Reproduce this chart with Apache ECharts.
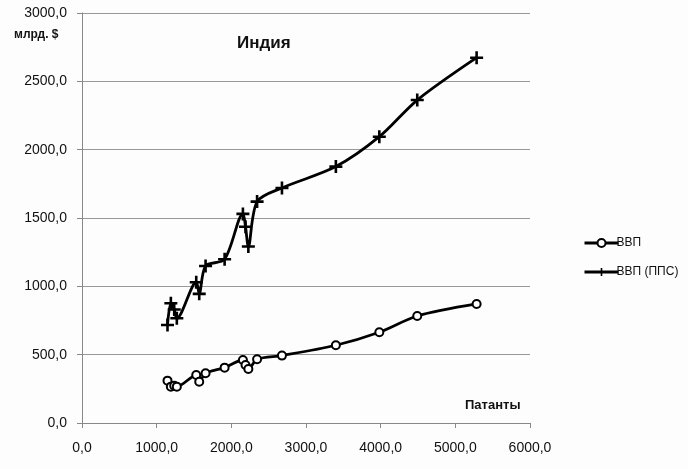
<!DOCTYPE html>
<html>
<head>
<meta charset="utf-8">
<script src="https://cdn.jsdelivr.net/npm/echarts@6/dist/echarts.min.js"></script>
<style>
html,body{margin:0;padding:0;background:#fdfdfd;}
#chart{width:688px;height:469px;}
</style>
</head>
<body>
<div id="chart"></div>
<script>
// Patents (x) for each observation
const patents = [1145, 1190, 1235, 1270, 1530, 1570, 1655, 1910, 2155, 2190, 2228, 2345, 2678, 3400, 3982, 4490, 5285];
// GDP, bn $
const gdp = [310, 266, 273, 266, 351, 302, 364, 405, 461, 424, 395, 466, 493, 569, 664, 783, 871];
// GDP (PPP), bn $
const gdpPPP = [717, 876, 830, 766, 1030, 945, 1149, 1198, 1530, 1436, 1292, 1620, 1720, 1876, 2095, 2363, 2673];
const seriesNames = ['ВВП', 'ВВП (ППС)'];
const titleText = 'Индия';
const yUnit = 'млрд. $';
const xName = 'Патанты';

const fmt = v => v.toFixed(1).replace('.', ',');
const pairs = ys => patents.map((x, i) => [x, ys[i]]);
const plusPath = 'path://M-1.2,-6H1.2V-1.2H6V1.2H1.2V6H-1.2V1.2H-6V-1.2H-1.2Z';
const font = 'Liberation Sans, Arial, sans-serif';

const chart = echarts.init(document.getElementById('chart'));
chart.setOption({
  backgroundColor: '#fdfdfd',
  animation: false,
  grid: {left: 82, right: 158, top: 13, bottom: 46, containLabel: false},
  xAxis: {
    type: 'value', min: 0, max: 6000, interval: 1000,
    axisLine: {show: true, lineStyle: {color: '#888', width: 1}},
    axisTick: {show: true, length: 5, lineStyle: {color: '#888'}},
    splitLine: {show: false},
    axisLabel: {formatter: fmt, color: '#111', fontSize: 14, fontFamily: font, margin: 18}
  },
  yAxis: {
    type: 'value', min: 0, max: 3000, interval: 500,
    axisLine: {show: true, lineStyle: {color: '#888', width: 1}},
    axisTick: {show: true, length: 5, lineStyle: {color: '#888'}},
    splitLine: {show: true, lineStyle: {color: '#999', width: 1}},
    axisLabel: {formatter: fmt, color: '#111', fontSize: 14, fontFamily: font, margin: 15}
  },
  legend: {
    orient: 'vertical', left: 578, top: 232, itemGap: 17,
    itemWidth: 34, itemHeight: 10,
    textStyle: {color: '#111', fontSize: 12, fontFamily: font, padding: [0, 0, 0, -7]},
    data: seriesNames.map(n => ({name: n, lineStyle: {width: 3, color: '#000'}}))
  },
  graphic: [
    {type: 'text', left: 237, top: 35, style: {text: titleText, font: 'bold 17px ' + font, fill: '#111'}},
    {type: 'text', left: 14, top: 29, style: {text: yUnit, font: 'bold 12px ' + font, fill: '#111'}},
    {type: 'text', left: 465, top: 399, style: {text: xName, font: 'bold 13px ' + font, fill: '#111'}}
  ],
  series: [
    {
      name: seriesNames[0], type: 'line', data: pairs(gdp), smooth: 0.3,
      symbol: 'emptyCircle', symbolSize: 8,
      lineStyle: {color: '#000', width: 2.8},
      itemStyle: {color: '#000', borderColor: '#000', borderWidth: 2}
    },
    {
      name: seriesNames[1], type: 'line', data: pairs(gdpPPP), smooth: 0.3,
      symbol: plusPath, symbolSize: 13,
      lineStyle: {color: '#000', width: 2.8},
      itemStyle: {color: '#000'}
    }
  ]
});
</script>
</body>
</html>
